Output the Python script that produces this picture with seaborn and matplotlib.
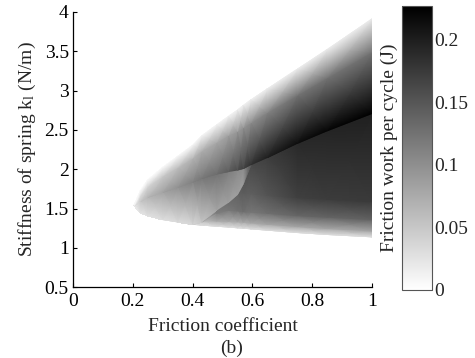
import numpy as np
import matplotlib
matplotlib.use("Agg")
import matplotlib.pyplot as plt
import seaborn as sns
from matplotlib.ticker import FormatStrFormatter

# ---- data -----------------------------------------------------------------
# friction coefficient columns
friction = [0.205, 0.225, 0.25, 0.30, 0.35, 0.40, 0.43, 0.48, 0.52, 0.55, 0.57,
            0.595, 0.65, 0.75, 0.85, 1.0]
# stiffness (N/m) of the region's characteristic curves in each column
k_lower  = [1.54, 1.45, 1.41, 1.36, 1.33, 1.30, 1.29, 1.275, 1.265, 1.255, 1.25,
            1.242, 1.225, 1.195, 1.17, 1.14]
k_fade1  = [1.54, 1.45, 1.41, 1.36, 1.33, 1.30, 1.33, 1.34, 1.335, 1.33, 1.325,
            1.317, 1.30, 1.27, 1.245, 1.215]
k_fade2  = [1.54, 1.45, 1.41, 1.36, 1.33, 1.30, 1.33, 1.44, 1.48, 1.47, 1.46,
            1.455, 1.44, 1.41, 1.39, 1.36]
k_fade3  = [1.54, 1.45, 1.41, 1.36, 1.33, 1.30, 1.33, 1.48, 1.58, 1.68, 1.70,
            1.69, 1.67, 1.64, 1.62, 1.59]
k_pocket = [1.54, 1.45, 1.41, 1.36, 1.33, 1.30, 1.33, 1.48, 1.58, 1.68, 1.82,
            2.06, 2.15, 2.33, 2.49, 2.71]
k_ridge  = [1.54, 1.59, 1.645, 1.71, 1.77, 1.84, 1.885, 1.94, 1.97, 1.99, 2.01,
            2.06, 2.15, 2.33, 2.49, 2.71]
k_upmid  = [1.54, 1.67, 1.78, 1.91, 2.02, 2.14, 2.23, 2.34, 2.43, 2.48, 2.53,
            2.59, 2.72, 2.94, 3.16, 3.49]
k_upper  = [1.54, 1.72, 1.86, 2.02, 2.16, 2.30, 2.42, 2.56, 2.67, 2.75, 2.81,
            2.88, 3.02, 3.27, 3.52, 3.91]
# friction work per cycle (J) on those curves
w_lower      = [0.02, 0.025, 0.028, 0.03, 0.03, 0.03, 0.03, 0.03, 0.03, 0.03, 0.03,
                0.03, 0.03, 0.03, 0.03, 0.03]
w_fade1      = [0.02, 0.025, 0.028, 0.03, 0.032, 0.035, 0.05, 0.075, 0.075, 0.075, 0.077,
                0.078, 0.08, 0.08, 0.08, 0.08]
w_fade2      = [0.02, 0.025, 0.028, 0.03, 0.032, 0.035, 0.055, 0.115, 0.12, 0.125, 0.128,
                0.122, 0.128, 0.136, 0.138, 0.14]
w_fade3      = [0.02, 0.025, 0.028, 0.03, 0.032, 0.035, 0.06, 0.12, 0.13, 0.14, 0.145,
                0.142, 0.152, 0.17, 0.173, 0.175]
w_dark_top   = [0.02, 0.025, 0.028, 0.03, 0.032, 0.035, 0.06, 0.12, 0.13, 0.14, 0.15,
                0.162, 0.172, 0.19, 0.195, 0.198]
w_pocket_low = [0.02, 0.025, 0.028, 0.03, 0.032, 0.035, 0.05, 0.08, 0.085, 0.085, 0.088,
                0.162, 0.172, 0.19, 0.195, 0.198]
w_ridge_low  = [0.02, 0.05, 0.065, 0.082, 0.098, 0.112, 0.12, 0.125, 0.115, 0.105, 0.10,
                0.162, 0.172, 0.19, 0.195, 0.198]
w_ridge_up   = [0.02, 0.05, 0.065, 0.082, 0.098, 0.112, 0.12, 0.13, 0.145, 0.16, 0.17,
                0.183, 0.20, 0.215, 0.222, 0.226]
w_upmid      = [0.012, 0.03, 0.038, 0.048, 0.058, 0.066, 0.072, 0.078, 0.085, 0.092, 0.097,
                0.102, 0.11, 0.125, 0.125, 0.125]
w_upper      = [0.006, 0.006, 0.006, 0.007, 0.008, 0.009, 0.01, 0.011, 0.012, 0.013, 0.014,
                0.015, 0.016, 0.017, 0.018, 0.018]

x_ticks = [0, 0.2, 0.4, 0.6, 0.8, 1]
y_ticks = [0.5, 1, 1.5, 2, 2.5, 3, 3.5, 4]
cbar_ticks = [0, 0.05, 0.1, 0.15, 0.2]
w_max = 0.227

# ---- style ------------------------------------------------------------------
sns.set_style("ticks")
plt.rcParams['font.family'] = ['Liberation Serif', 'DejaVu Serif']
plt.rcParams['mathtext.default'] = 'regular'
plt.rcParams['xtick.direction'] = 'in'
plt.rcParams['ytick.direction'] = 'in'

fig = plt.figure(figsize=(4.75, 3.58), dpi=100)
ax = fig.add_axes([0.1537, 0.198, 0.6295, 0.7685])
cax = fig.add_axes([0.846, 0.19, 0.063, 0.793])

# mesh built from the read curves (rows bottom -> top)
K = np.array([k_lower, k_fade1, k_fade2, k_fade3, k_pocket, k_pocket,
              k_ridge, k_ridge, k_upmid, k_upper])
W = np.array([w_lower, w_fade1, w_fade2, w_fade3, w_dark_top, w_pocket_low,
              w_ridge_low, w_ridge_up, w_upmid, w_upper])
F = np.tile(np.array(friction), (K.shape[0], 1))

# drawn several times so the anti-aliased seams between shading triangles close up
for _ in range(4):
    mesh = ax.pcolormesh(F, K, W, shading='gouraud', cmap='gray_r',
                         vmin=0, vmax=w_max)

ax.set_xlim(0, 1)
ax.set_ylim(0.5, 4)
ax.set_xticks(x_ticks)
ax.set_yticks(y_ticks)
ax.xaxis.set_major_formatter(FormatStrFormatter('%g'))
ax.yaxis.set_major_formatter(FormatStrFormatter('%g'))
ax.tick_params(labelsize=14, length=3, width=0.8, colors='black', pad=3)
ax.tick_params(axis='x', pad=4)
sns.despine(ax=ax)
for s in ['left', 'bottom']:
    ax.spines[s].set_color('black')
    ax.spines[s].set_linewidth(0.9)

ax.set_xlabel('Friction coefficient', fontsize=14, labelpad=6)
ax.set_ylabel(r'Stiffness of spring k$_{l}$ (N/m)', fontsize=14, labelpad=5)
fig.text(0.488, 0.028, '(b)', ha='center', va='center', fontsize=14)

cb = fig.colorbar(mesh, cax=cax, ticks=cbar_ticks)
cb.ax.yaxis.set_major_formatter(FormatStrFormatter('%g'))
cb.ax.tick_params(labelsize=14, direction='in', length=3, width=0.6, pad=2)
cb.outline.set_edgecolor('#555555')
cb.outline.set_linewidth(0.8)
cax.yaxis.set_label_position('left')
cb.set_label('Friction work per cycle (J)', fontsize=14, labelpad=3)

fig.savefig('out.png', dpi=100)
